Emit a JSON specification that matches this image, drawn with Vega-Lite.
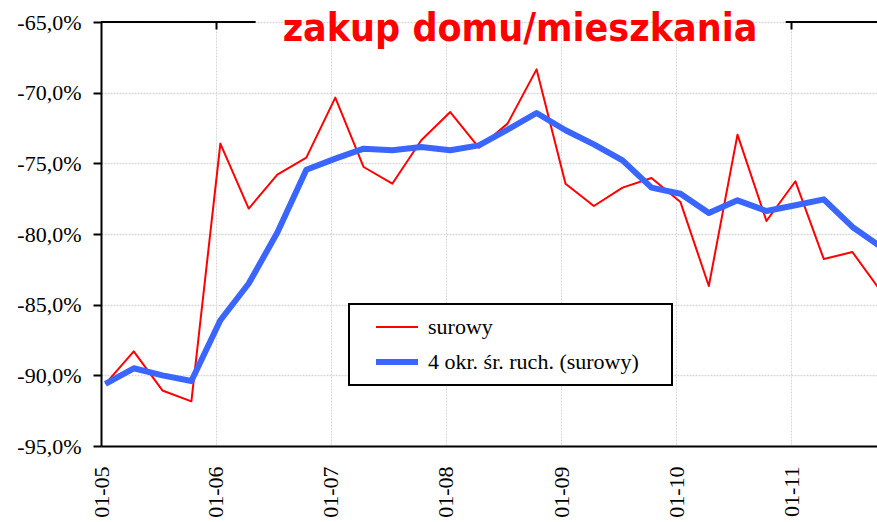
{
  "$schema": "https://vega.github.io/schema/vega-lite/v6.json",
  "width": 776,
  "height": 424,
  "autosize": {"type": "none"},
  "padding": {"left": 101, "top": 22, "right": 0, "bottom": 76},
  "background": "white",
  "title": {
    "text": "zakup domu/mieszkania",
    "color": "#ff0000",
    "font": "DejaVu Sans Condensed",
    "fontWeight": "bold",
    "fontSize": 39,
    "anchor": "middle",
    "frame": "group",
    "baseline": "alphabetic",
    "offset": 0,
    "dy": 69,
    "dx": 31
  },
  "config": {
    "view": {"stroke": null},
    "legend": {"strokeWidth": 2}
  },
  "data": {
    "values": [
      {"date": "2005-01-15", "series": "surowy", "value": -90.6},
      {"date": "2005-04-15", "series": "surowy", "value": -88.3},
      {"date": "2005-07-15", "series": "surowy", "value": -91.07},
      {"date": "2005-10-15", "series": "surowy", "value": -91.84},
      {"date": "2006-01-15", "series": "surowy", "value": -73.6},
      {"date": "2006-04-15", "series": "surowy", "value": -78.2},
      {"date": "2006-07-15", "series": "surowy", "value": -75.8},
      {"date": "2006-10-15", "series": "surowy", "value": -74.6},
      {"date": "2007-01-15", "series": "surowy", "value": -70.35},
      {"date": "2007-04-15", "series": "surowy", "value": -75.26},
      {"date": "2007-07-15", "series": "surowy", "value": -76.44},
      {"date": "2007-10-15", "series": "surowy", "value": -73.37},
      {"date": "2008-01-15", "series": "surowy", "value": -71.37},
      {"date": "2008-04-15", "series": "surowy", "value": -73.89},
      {"date": "2008-07-15", "series": "surowy", "value": -72.19},
      {"date": "2008-10-15", "series": "surowy", "value": -68.35},
      {"date": "2009-01-15", "series": "surowy", "value": -76.44},
      {"date": "2009-04-15", "series": "surowy", "value": -78.02},
      {"date": "2009-07-15", "series": "surowy", "value": -76.72},
      {"date": "2009-10-15", "series": "surowy", "value": -76.04},
      {"date": "2010-01-15", "series": "surowy", "value": -77.74},
      {"date": "2010-04-15", "series": "surowy", "value": -83.68},
      {"date": "2010-07-15", "series": "surowy", "value": -72.97},
      {"date": "2010-10-15", "series": "surowy", "value": -79.08},
      {"date": "2011-01-15", "series": "surowy", "value": -76.27},
      {"date": "2011-04-15", "series": "surowy", "value": -81.77},
      {"date": "2011-07-15", "series": "surowy", "value": -81.28},
      {"date": "2011-10-15", "series": "surowy", "value": -84.1},
      {"date": "2005-01-15", "series": "4 okr. śr. ruch. (surowy)", "value": -90.6},
      {"date": "2005-04-15", "series": "4 okr. śr. ruch. (surowy)", "value": -89.5},
      {"date": "2005-07-15", "series": "4 okr. śr. ruch. (surowy)", "value": -90.0},
      {"date": "2005-10-15", "series": "4 okr. śr. ruch. (surowy)", "value": -90.4},
      {"date": "2006-01-15", "series": "4 okr. śr. ruch. (surowy)", "value": -86.1},
      {"date": "2006-04-15", "series": "4 okr. śr. ruch. (surowy)", "value": -83.5},
      {"date": "2006-07-15", "series": "4 okr. śr. ruch. (surowy)", "value": -79.9},
      {"date": "2006-10-15", "series": "4 okr. śr. ruch. (surowy)", "value": -75.45},
      {"date": "2007-01-15", "series": "4 okr. śr. ruch. (surowy)", "value": -74.67},
      {"date": "2007-04-15", "series": "4 okr. śr. ruch. (surowy)", "value": -73.96},
      {"date": "2007-07-15", "series": "4 okr. śr. ruch. (surowy)", "value": -74.08},
      {"date": "2007-10-15", "series": "4 okr. śr. ruch. (surowy)", "value": -73.85},
      {"date": "2008-01-15", "series": "4 okr. śr. ruch. (surowy)", "value": -74.08},
      {"date": "2008-04-15", "series": "4 okr. śr. ruch. (surowy)", "value": -73.73},
      {"date": "2008-07-15", "series": "4 okr. śr. ruch. (surowy)", "value": -72.62},
      {"date": "2008-10-15", "series": "4 okr. śr. ruch. (surowy)", "value": -71.44},
      {"date": "2009-01-15", "series": "4 okr. śr. ruch. (surowy)", "value": -72.66},
      {"date": "2009-04-15", "series": "4 okr. śr. ruch. (surowy)", "value": -73.66},
      {"date": "2009-07-15", "series": "4 okr. śr. ruch. (surowy)", "value": -74.79},
      {"date": "2009-10-15", "series": "4 okr. śr. ruch. (surowy)", "value": -76.72},
      {"date": "2010-01-15", "series": "4 okr. śr. ruch. (surowy)", "value": -77.15},
      {"date": "2010-04-15", "series": "4 okr. śr. ruch. (surowy)", "value": -78.52},
      {"date": "2010-07-15", "series": "4 okr. śr. ruch. (surowy)", "value": -77.62},
      {"date": "2010-10-15", "series": "4 okr. śr. ruch. (surowy)", "value": -78.37},
      {"date": "2011-01-15", "series": "4 okr. śr. ruch. (surowy)", "value": -77.97},
      {"date": "2011-04-15", "series": "4 okr. śr. ruch. (surowy)", "value": -77.55},
      {"date": "2011-07-15", "series": "4 okr. śr. ruch. (surowy)", "value": -79.5},
      {"date": "2011-10-15", "series": "4 okr. śr. ruch. (surowy)", "value": -80.93}
    ]
  },
  "resolve": {"axis": {"x": "independent"}},
  "layer": [
    {
      "mark": {"type": "line", "clip": true, "strokeJoin": "round"},
      "encoding": {
        "x": {
          "field": "date",
          "type": "temporal",
          "scale": {
            "domain": [{"year": 2005, "month": 1, "date": 1}, {"year": 2011, "month": 10, "date": 1}],
            "nice": false
          },
          "axis": {
            "orient": "bottom",
            "title": null,
            "format": "%m-%y",
            "values": [
              {"year": 2005, "month": 1, "date": 1},
              {"year": 2006, "month": 1, "date": 1},
              {"year": 2007, "month": 1, "date": 1},
              {"year": 2008, "month": 1, "date": 1},
              {"year": 2009, "month": 1, "date": 1},
              {"year": 2010, "month": 1, "date": 1},
              {"year": 2011, "month": 1, "date": 1}
            ],
            "labelAngle": -90,
            "labelAlign": "right",
            "labelBaseline": "middle",
            "labelFont": "Liberation Serif",
            "labelFontSize": 22,
            "labelColor": "black",
            "labelPadding": 20,
            "ticks": false,
            "tickSize": 0,
            "domainColor": "black",
            "domainWidth": 2,
            "grid": true,
            "gridColor": "#d9d9d9",
            "gridDash": [2, 1],
            "gridWidth": 1,
            "labelFlush": false,
            "labelOverlap": false
          }
        },
        "y": {
          "field": "value",
          "type": "quantitative",
          "scale": {"domain": [-95, -65], "nice": false, "zero": false},
          "axis": {
            "title": null,
            "values": [-95, -90, -85, -80, -75, -70, -65],
            "labelExpr": "(datum.value < 0 ? '-' : '') + replace(format(abs(datum.value), '.1f'), '.', ',') + '%'",
            "labelFont": "Liberation Serif",
            "labelFontSize": 22,
            "labelColor": "black",
            "labelPadding": 12,
            "tickColor": "black",
            "tickWidth": 2,
            "tickSize": 8,
            "domainColor": "black",
            "domainWidth": 2,
            "grid": true,
            "gridColor": "#d9d9d9",
            "gridDash": [2, 1],
            "gridWidth": 1.5,
            "labelFlush": false
          }
        },
        "color": {
          "field": "series",
          "type": "nominal",
          "scale": {
            "domain": ["surowy", "4 okr. śr. ruch. (surowy)"],
            "range": ["#ff0000", "#3a66ff"]
          },
          "legend": {
            "title": " ",
            "titleOrient": "right",
            "titlePadding": 21,
            "titleFontSize": 4,
            "orient": "none",
            "legendX": 248,
            "legendY": 282,
            "strokeColor": "black",
            "fillColor": "white",
            "padding": 12,
            "symbolType": "stroke",
            "symbolSize": 1764,
            "clipHeight": 22,
            "symbolOffset": 12,
            "labelOffset": 7,
            "labelFont": "Liberation Serif",
            "labelFontSize": 22,
            "labelColor": "black",
            "labelLimit": 400,
            "rowPadding": 13
          }
        },
        "strokeWidth": {
          "field": "series",
          "type": "nominal",
          "scale": {
            "domain": ["surowy", "4 okr. śr. ruch. (surowy)"],
            "range": [2, 6]
          },
          "legend": {
            "title": " ",
            "titleOrient": "right",
            "titlePadding": 21,
            "titleFontSize": 4,
            "orient": "none",
            "legendX": 248,
            "legendY": 282,
            "strokeColor": "black",
            "fillColor": "white",
            "padding": 12,
            "symbolType": "stroke",
            "symbolSize": 1764,
            "clipHeight": 22,
            "symbolOffset": 12,
            "labelOffset": 7,
            "labelFont": "Liberation Serif",
            "labelFontSize": 22,
            "labelColor": "black",
            "labelLimit": 400,
            "rowPadding": 13
          }
        }
      }
    },
    {
      "data": {"values": [{}]},
      "mark": {"type": "rule", "color": "black", "strokeWidth": 2},
      "encoding": {
        "x": {
          "datum": {"year": 2005, "month": 1, "date": 1},
          "type": "temporal",
          "axis": {
            "orient": "top",
            "title": null,
            "labels": false,
            "domain": false,
            "grid": false,
            "values": [{"year": 2006, "month": 1, "date": 1}, {"year": 2011, "month": 1, "date": 1}],
            "ticks": true,
            "tickColor": "black",
            "tickWidth": 2,
            "tickSize": -7
          }
        },
        "x2": {"datum": {"year": 2006, "month": 5, "date": 7}},
        "y": {"datum": -65, "type": "quantitative"}
      }
    },
    {
      "data": {"values": [{}]},
      "mark": {"type": "rule", "color": "black", "strokeWidth": 2},
      "encoding": {
        "x": {"datum": {"year": 2010, "month": 12, "date": 15}, "type": "temporal", "axis": null},
        "x2": {"datum": {"year": 2011, "month": 10, "date": 1}},
        "y": {"datum": -65, "type": "quantitative"}
      }
    }
  ]
}
